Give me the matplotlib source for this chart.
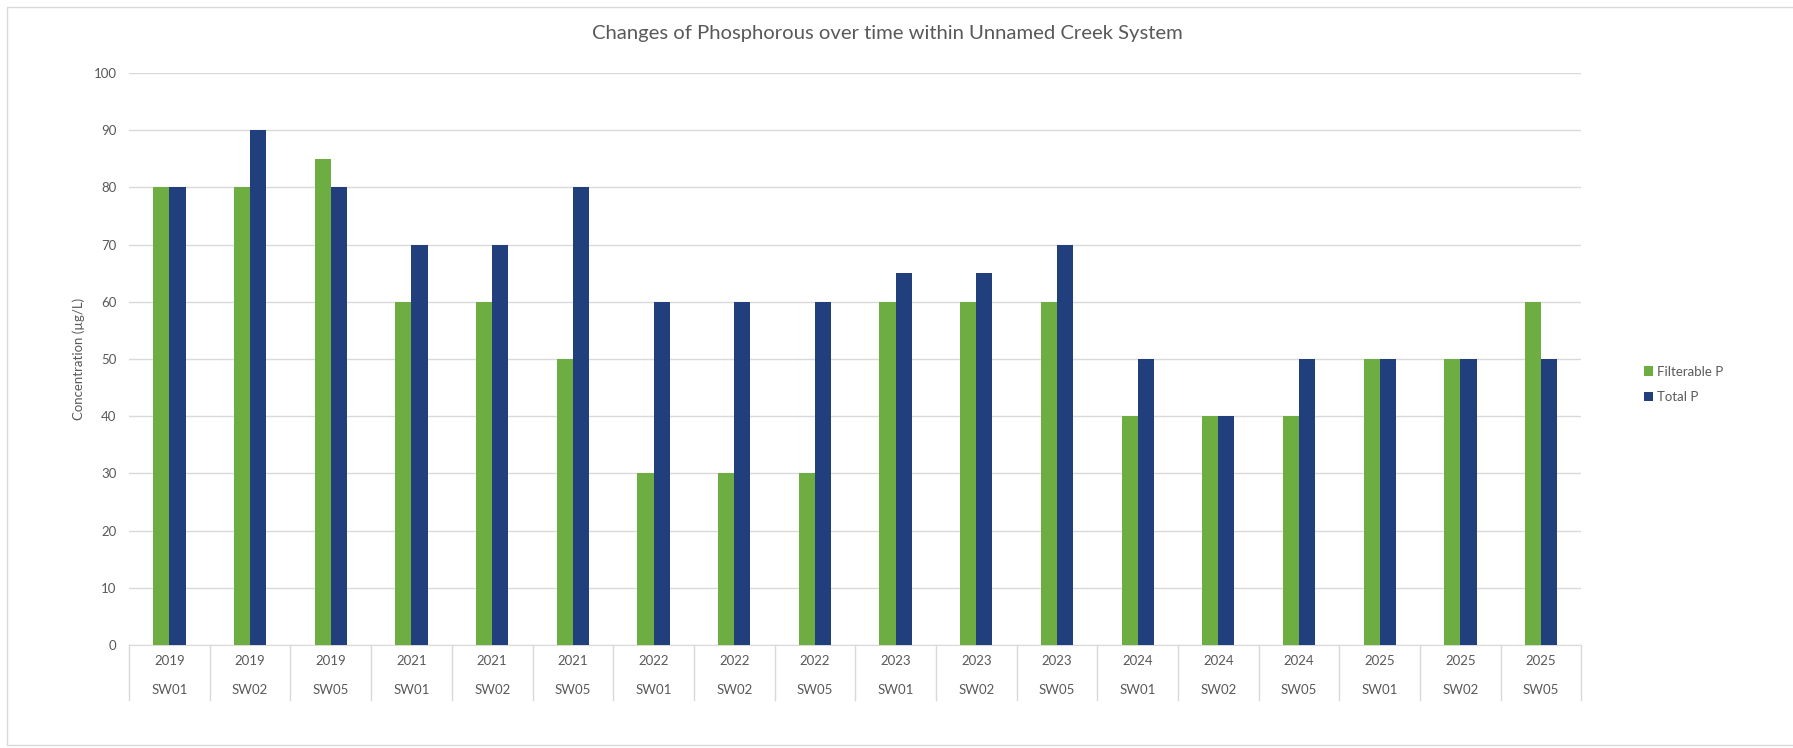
import matplotlib
matplotlib.use("Agg")
import matplotlib.pyplot as plt
from matplotlib.patches import Rectangle
import numpy as np

# ========== Данные ==========
years = ["2019", "2019", "2019", "2021", "2021", "2021", "2022", "2022", "2022",
         "2023", "2023", "2023", "2024", "2024", "2024", "2025", "2025", "2025"]
sites = ["SW01", "SW02", "SW05"] * 6
filterable_p = [80, 80, 85, 60, 60, 50, 30, 30, 30, 60, 60, 60, 40, 40, 40, 50, 50, 60]
total_p      = [80, 90, 80, 70, 70, 80, 60, 60, 60, 65, 65, 70, 50, 40, 50, 50, 50, 50]
y_ticks = [0, 10, 20, 30, 40, 50, 60, 70, 80, 90, 100]
# ============================

GREEN = "#6DAD42"
BLUE = "#203F7C"
GRID = "#D9D9D9"
TEXT = "#595959"

plt.rcParams["font.family"] = ["Lato", "DejaVu Sans"]

fig = plt.figure(figsize=(17.93, 7.48), dpi=100)
ax = fig.add_axes([0.072, 0.1377, 0.81, 0.7647])

x = np.arange(len(years))
w = 0.2
ax.bar(x - w / 2, filterable_p, width=w, color=GREEN, label="Filterable P", zorder=3)
ax.bar(x + w / 2, total_p, width=w, color=BLUE, label="Total P", zorder=3)

ax.set_xlim(-0.5, len(years) - 0.5)
ax.set_ylim(0, 100)
ax.set_yticks(y_ticks)
ax.tick_params(axis="y", length=0, labelsize=9.5, labelcolor=TEXT, pad=9)
ax.set_xticks([])
ax.yaxis.grid(True, color=GRID, lw=1, zorder=0)
for s in ["top", "right", "left"]:
    ax.spines[s].set_visible(False)
ax.spines["bottom"].set_color(GRID)

# двухуровневые подписи категорий
trans = ax.get_xaxis_transform()
for i in range(len(years)):
    ax.text(x[i], -0.028, years[i], transform=trans, ha="center", va="center",
            fontsize=9.5, color=TEXT)
    ax.text(x[i], -0.078, sites[i], transform=trans, ha="center", va="center",
            fontsize=9.5, color=TEXT)
for b in np.arange(-0.5, len(years), 1.0):
    ax.plot([b, b], [0, -0.096], transform=trans, color=GRID, lw=1, clip_on=False)

ax.set_ylabel("Concentration (µg/L)", fontsize=9.5, color=TEXT, labelpad=6)
fig.text(0.495, 0.955, "Changes of Phosphorous over time within Unnamed Creek System",
         ha="center", va="center", fontsize=14.6, color=TEXT)

ax.legend(loc="center left", bbox_to_anchor=(1.035, 0.456), frameon=False,
          fontsize=9.5, labelcolor=TEXT, handlelength=0.7, handleheight=0.7,
          handletextpad=0.3, labelspacing=1.0)

# рамка вокруг диаграммы (правый край уходит за кадр)
fig.patches.append(Rectangle((0.004, 0.004), 1.05, 0.986, transform=fig.transFigure,
                             fill=False, edgecolor=GRID, lw=1))

fig.savefig("out.png", dpi=100)
